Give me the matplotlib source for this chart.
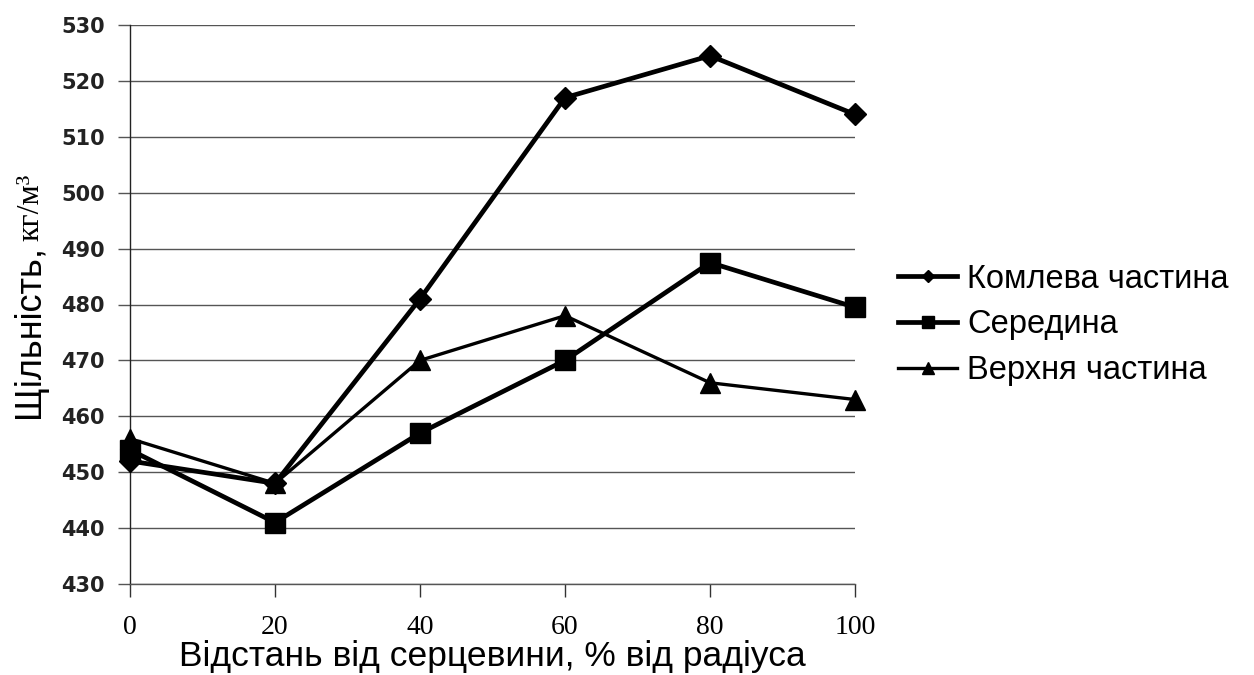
import matplotlib
matplotlib.use('Agg')
import matplotlib.pyplot as plt

# distance from pith, % of radius
distance = [0, 20, 40, 60, 80, 100]

# density, kg/m3
butt_part = [452, 448, 481, 517, 524.5, 514]
middle = [454, 441, 457, 470, 487.5, 479.5]
upper_part = [456, 448, 470, 478, 466, 463]

series_names = ['Комлева частина', 'Середина', 'Верхня частина']
y_ticks = list(range(430, 531, 10))
x_ticks = [0, 20, 40, 60, 80, 100]

fig = plt.figure(figsize=(12.54, 6.75), dpi=100)
ax = fig.add_axes([130 / 1254, 1 - 584 / 675, (855 - 130) / 1254, (584 - 25) / 675])

ax.plot(distance, butt_part, color='black', lw=3.4, marker='D', ms=11,
        label=series_names[0], clip_on=False, zorder=5)
ax.plot(distance, middle, color='black', lw=3.4, marker='s', ms=14,
        label=series_names[1], clip_on=False, zorder=5)
ax.plot(distance, upper_part, color='black', lw=2.4, marker='^', ms=14,
        label=series_names[2], clip_on=False, zorder=5)

ax.set_xlim(0, 100)
ax.set_ylim(430, 530)
ax.set_yticks(y_ticks)
ax.set_xticks(x_ticks)
ax.yaxis.grid(True, color='#555555', lw=1.0)
ax.set_axisbelow(True)

for s in ['top', 'right']:
    ax.spines[s].set_visible(False)
ax.spines['left'].set_color('#222222')
ax.spines['bottom'].set_color('#555555')
ax.spines['left'].set_linewidth(1.0)
ax.spines['bottom'].set_linewidth(1.0)

ax.tick_params(axis='y', length=9, width=1.0, color='#555555', pad=9)
ax.tick_params(axis='x', length=9, width=1.0, color='#333333', pad=13)
for lab in ax.get_yticklabels():
    lab.set_fontfamily('DejaVu Sans')
    lab.set_fontweight('bold')
    lab.set_fontsize(15)
    lab.set_color('#222222')
for lab in ax.get_xticklabels():
    lab.set_fontfamily('Liberation Serif')
    lab.set_fontsize(20)

ax.set_xlabel('Відстань від серцевини, % від радіуса', family='Liberation Sans',
              fontsize=25.5, labelpad=0)

# y label in two parts: sans word and serif units
fig.text(30 / 1254, 1 - 418 / 675, 'Щільність,', rotation=90, family='Liberation Sans',
         fontsize=26, ha='center', va='bottom')
fig.text(31 / 1254, 1 - 241 / 675, 'кг/м³', rotation=90, family='Liberation Serif',
         fontsize=23, ha='center', va='bottom')

handles, labels = ax.get_legend_handles_labels()
leg = fig.legend(handles, labels, loc='center left', bbox_to_anchor=(869 / 1254, 1 - 325 / 675),
                 frameon=False, prop={'family': 'Liberation Sans', 'size': 23.5},
                 handlelength=1.8, handletextpad=0.3, labelspacing=0.45, markerscale=0.6)

fig.savefig('out.png', dpi=100)
